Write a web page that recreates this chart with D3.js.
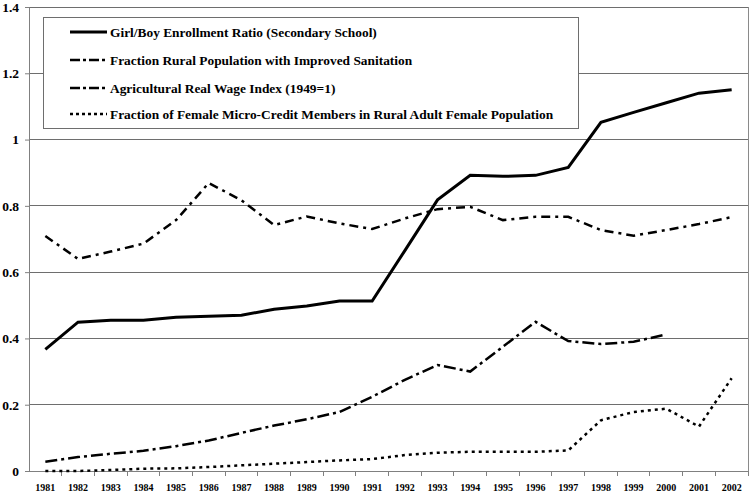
<!DOCTYPE html>
<html><head><meta charset="utf-8">
<script src="https://cdn.jsdelivr.net/npm/d3@7"></script>
<style>body{margin:0;background:#fff}svg{display:block}
svg text{font-family:"Liberation Serif","Times New Roman",Times,serif;font-weight:bold;fill:#000}</style>
</head><body>
<svg id="c" width="750" height="493"></svg>
<script>
const years = ["1981","1982","1983","1984","1985","1986","1987","1988","1989","1990","1991","1992","1993","1994","1995","1996","1997","1998","1999","2000","2001","2002"];
const enrollment = [0.367,0.449,0.455,0.455,0.464,0.467,0.470,0.488,0.498,0.513,0.513,0.665,0.818,0.892,0.889,0.892,0.916,1.052,1.082,1.111,1.140,1.150];
const sanitation = [0.028,0.042,0.052,0.061,0.075,0.092,0.115,0.137,0.156,0.178,0.224,0.275,0.320,0.300,0.375,0.450,0.392,0.383,0.390,0.412,null,null];
const wage = [0.709,0.640,0.662,0.686,0.757,0.869,0.817,0.742,0.768,0.747,0.730,0.762,0.790,0.797,0.757,0.767,0.767,0.727,0.710,0.727,0.745,0.766];
const microcredit = [0.0,0.0,0.003,0.007,0.008,0.012,0.017,0.022,0.027,0.032,0.036,0.048,0.055,0.058,0.058,0.058,0.062,0.153,0.178,0.188,0.134,0.280];
const yTicks = [0,0.2,0.4,0.6,0.8,1,1.2,1.4];
const seriesNames = ["Girl/Boy Enrollment Ratio (Secondary School)","Fraction Rural Population with Improved Sanitation","Agricultural Real Wage Index (1949=1)","Fraction of Female Micro-Credit Members in Rural Adult Female Population"];

const svg = d3.select("#c");
const L=29, R=748, T=7, B=471;
const x = d3.scaleBand().domain(years).range([L,R]);
const y = d3.scaleLinear().domain([0,1.4]).range([B,T]);

// gridlines
svg.append("g").selectAll("line").data(yTicks).join("line")
  .attr("x1",L).attr("x2",R).attr("y1",d=>y(d)).attr("y2",d=>y(d))
  .attr("stroke","#6e6e6e").attr("stroke-width",1).attr("shape-rendering","crispEdges");
// right frame
svg.append("line").attr("x1",R).attr("x2",R).attr("y1",T).attr("y2",B)
  .attr("stroke","#8a8a8a").attr("shape-rendering","crispEdges");

// y axis
const ya = svg.append("g").attr("transform",`translate(${L},0)`)
  .call(d3.axisLeft(y).tickValues(yTicks).tickSize(4).tickPadding(6).tickFormat(d=>d3.format("~g")(d)));
ya.select(".domain").attr("stroke","#808080");
ya.selectAll(".tick line").attr("stroke","#808080");
ya.selectAll("text").style("font-size","13.5px");

// x axis
const xa = svg.append("g").attr("transform",`translate(0,${B})`)
  .call(d3.axisBottom(x).tickSize(0).tickPadding(13));
xa.select(".domain").attr("stroke","#808080");
xa.selectAll("text").style("font-size","10px");
// category boundary ticks
svg.append("g").selectAll("line").data(years).join("line")
  .attr("x1",(d,i)=>L+(i+1)*x.step()).attr("x2",(d,i)=>L+(i+1)*x.step())
  .attr("y1",B).attr("y2",B+5).attr("stroke","#808080").attr("shape-rendering","crispEdges");

const styles = [
  {data:enrollment, dash:null, w:3},
  {data:sanitation, dash:"12,4,3,4", w:2.5},
  {data:wage, dash:"9,5,3,5", w:2.5},
  {data:microcredit, dash:"3,4", w:2.5}
];
const line = d3.line().defined(d=>d.v!=null).x(d=>x(d.k)+x.bandwidth()/2).y(d=>y(d.v));
styles.forEach(s=>{
  svg.append("path").datum(years.map((k,i)=>({k,v:s.data[i]})))
    .attr("d",line).attr("fill","none").attr("stroke","#000")
    .attr("stroke-width",s.w).attr("stroke-dasharray",s.dash);
});

// legend
const lg = svg.append("g");
lg.append("rect").attr("x",43.5).attr("y",17.5).attr("width",535).attr("height",111)
  .attr("fill","#fff").attr("stroke","#6e6e6e");
const rowsY = [32,60,88,114];
styles.forEach((s,i)=>{
  lg.append("line").attr("x1",70).attr("x2",107).attr("y1",rowsY[i]).attr("y2",rowsY[i])
    .attr("stroke","#000").attr("stroke-width",s.w).attr("stroke-dasharray",s.dash==null?null:(i===3?"3,3":"10,3,3,3"));
  lg.append("text").attr("x",110).attr("y",rowsY[i]+4.5).text(seriesNames[i]).style("font-size","13.4px");
});
</script>
</body></html>
